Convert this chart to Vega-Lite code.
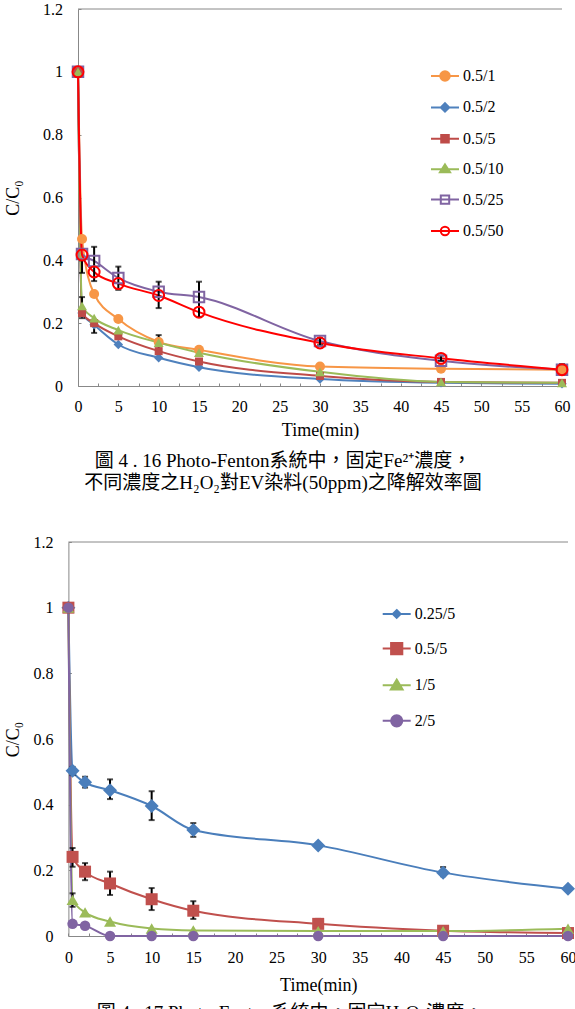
{
  "$schema": "https://vega.github.io/schema/vega-lite/v6.json",
  "padding": {"left": 4, "top": 1, "right": 0, "bottom": 0},
  "background": "white",
  "spacing": 40,
  "resolve": {"scale": {"x": "independent", "y": "independent", "color": "independent"}, "legend": {"color": "independent"}, "axis": {"x": "independent", "y": "independent"}},
  "config": {
    "font": "Liberation Serif",
    "view": {"stroke": null},
    "axis": {"labelFont": "Liberation Serif", "labelFontSize": 16, "labelColor": "#000", "titleFont": "Liberation Serif", "titleFontSize": 18, "titleFontWeight": "normal", "titleColor": "#000", "domainColor": "#888", "tickColor": "#888", "tickSize": -3, "grid": false, "labelOverlap": false, "labelFlush": false},
    "legend": {"labelFont": "Liberation Serif", "labelFontSize": 16, "labelColor": "#000"},
    "title": {"font": "Liberation Serif, Noto Sans CJK TC", "fontSize": 19, "fontWeight": "normal", "color": "#000", "orient": "bottom", "anchor": "middle", "lineHeight": 22, "frame": "group"}
  },
  "datasets": {
    "d1": [
      {"s": "0.5/1", "t": 0, "v": 1}, {"s": "0.5/1", "t": 0.5, "v": 0.468}, {"s": "0.5/1", "t": 2, "v": 0.293}, {"s": "0.5/1", "t": 5, "v": 0.213}, {"s": "0.5/1", "t": 10, "v": 0.14}, {"s": "0.5/1", "t": 15, "v": 0.115}, {"s": "0.5/1", "t": 30, "v": 0.062}, {"s": "0.5/1", "t": 45, "v": 0.055}, {"s": "0.5/1", "t": 60, "v": 0.052},
      {"s": "0.5/2", "t": 0, "v": 1}, {"s": "0.5/2", "t": 0.5, "v": 0.232}, {"s": "0.5/2", "t": 2, "v": 0.195}, {"s": "0.5/2", "t": 5, "v": 0.132}, {"s": "0.5/2", "t": 10, "v": 0.09}, {"s": "0.5/2", "t": 15, "v": 0.06}, {"s": "0.5/2", "t": 30, "v": 0.022}, {"s": "0.5/2", "t": 45, "v": 0.01}, {"s": "0.5/2", "t": 60, "v": 0.007},
      {"s": "0.5/5", "t": 0, "v": 1}, {"s": "0.5/5", "t": 0.5, "v": 0.232}, {"s": "0.5/5", "t": 2, "v": 0.2}, {"s": "0.5/5", "t": 5, "v": 0.158}, {"s": "0.5/5", "t": 10, "v": 0.111}, {"s": "0.5/5", "t": 15, "v": 0.078}, {"s": "0.5/5", "t": 30, "v": 0.032}, {"s": "0.5/5", "t": 45, "v": 0.013}, {"s": "0.5/5", "t": 60, "v": 0.01},
      {"s": "0.5/10", "t": 0, "v": 1}, {"s": "0.5/10", "t": 0.5, "v": 0.255}, {"s": "0.5/10", "t": 2, "v": 0.216}, {"s": "0.5/10", "t": 5, "v": 0.178}, {"s": "0.5/10", "t": 10, "v": 0.138}, {"s": "0.5/10", "t": 15, "v": 0.106}, {"s": "0.5/10", "t": 30, "v": 0.045}, {"s": "0.5/10", "t": 45, "v": 0.013}, {"s": "0.5/10", "t": 60, "v": 0.01},
      {"s": "0.5/25", "t": 0, "v": 1}, {"s": "0.5/25", "t": 0.5, "v": 0.42}, {"s": "0.5/25", "t": 2, "v": 0.398}, {"s": "0.5/25", "t": 5, "v": 0.344}, {"s": "0.5/25", "t": 10, "v": 0.3}, {"s": "0.5/25", "t": 15, "v": 0.283}, {"s": "0.5/25", "t": 30, "v": 0.143}, {"s": "0.5/25", "t": 45, "v": 0.08}, {"s": "0.5/25", "t": 60, "v": 0.052},
      {"s": "0.5/50", "t": 0, "v": 1}, {"s": "0.5/50", "t": 0.5, "v": 0.417}, {"s": "0.5/50", "t": 2, "v": 0.363}, {"s": "0.5/50", "t": 5, "v": 0.326}, {"s": "0.5/50", "t": 10, "v": 0.288}, {"s": "0.5/50", "t": 15, "v": 0.235}, {"s": "0.5/50", "t": 30, "v": 0.137}, {"s": "0.5/50", "t": 45, "v": 0.088}, {"s": "0.5/50", "t": 60, "v": 0.052}
    ],
    "e1": [
      {"t": 0.5, "lo": 0.36, "hi": 0.4}, {"t": 0.5, "lo": 0.216, "hi": 0.283}, {"t": 2, "lo": 0.334, "hi": 0.443}, {"t": 2, "lo": 0.169, "hi": 0.204}, {"t": 5, "lo": 0.306, "hi": 0.38}, {"t": 10, "lo": 0.248, "hi": 0.332}, {"t": 10, "lo": 0.105, "hi": 0.162}, {"t": 15, "lo": 0.22, "hi": 0.332}, {"t": 30, "lo": 0.13, "hi": 0.152}, {"t": 45, "lo": 0.08, "hi": 0.097}, {"t": 45, "lo": 0.008, "hi": 0.022}, {"t": 60, "lo": 0.045, "hi": 0.07}
    ],
    "d2": [
      {"s": "0.25/5", "t": 0, "v": 1}, {"s": "0.25/5", "t": 0.5, "v": 0.503}, {"s": "0.25/5", "t": 2, "v": 0.468}, {"s": "0.25/5", "t": 5, "v": 0.444}, {"s": "0.25/5", "t": 10, "v": 0.396}, {"s": "0.25/5", "t": 15, "v": 0.323}, {"s": "0.25/5", "t": 30, "v": 0.276}, {"s": "0.25/5", "t": 45, "v": 0.193}, {"s": "0.25/5", "t": 60, "v": 0.144},
      {"s": "0.5/5", "t": 0, "v": 1}, {"s": "0.5/5", "t": 0.5, "v": 0.241}, {"s": "0.5/5", "t": 2, "v": 0.196}, {"s": "0.5/5", "t": 5, "v": 0.16}, {"s": "0.5/5", "t": 10, "v": 0.112}, {"s": "0.5/5", "t": 15, "v": 0.077}, {"s": "0.5/5", "t": 30, "v": 0.037}, {"s": "0.5/5", "t": 45, "v": 0.016}, {"s": "0.5/5", "t": 60, "v": 0.009},
      {"s": "1/5", "t": 0, "v": 1}, {"s": "1/5", "t": 0.5, "v": 0.11}, {"s": "1/5", "t": 2, "v": 0.072}, {"s": "1/5", "t": 5, "v": 0.044}, {"s": "1/5", "t": 10, "v": 0.023}, {"s": "1/5", "t": 15, "v": 0.017}, {"s": "1/5", "t": 30, "v": 0.015}, {"s": "1/5", "t": 45, "v": 0.015}, {"s": "1/5", "t": 60, "v": 0.022},
      {"s": "2/5", "t": 0, "v": 1}, {"s": "2/5", "t": 0.5, "v": 0.037}, {"s": "2/5", "t": 2, "v": 0.031}, {"s": "2/5", "t": 5, "v": 0}, {"s": "2/5", "t": 10, "v": 0}, {"s": "2/5", "t": 15, "v": 0}, {"s": "2/5", "t": 30, "v": 0}, {"s": "2/5", "t": 45, "v": 0}, {"s": "2/5", "t": 60, "v": 0}
    ],
    "e2": [
      {"t": 0.5, "lo": 0.49, "hi": 0.515}, {"t": 2, "lo": 0.452, "hi": 0.485}, {"t": 5, "lo": 0.417, "hi": 0.477}, {"t": 10, "lo": 0.353, "hi": 0.441}, {"t": 15, "lo": 0.302, "hi": 0.344}, {"t": 45, "lo": 0.182, "hi": 0.21},
      {"t": 0.5, "lo": 0.211, "hi": 0.268}, {"t": 2, "lo": 0.17, "hi": 0.222}, {"t": 5, "lo": 0.125, "hi": 0.196}, {"t": 10, "lo": 0.079, "hi": 0.146}, {"t": 15, "lo": 0.052, "hi": 0.106}, {"t": 30, "lo": 0.024, "hi": 0.052}, {"t": 45, "lo": 0.01, "hi": 0.025},
      {"t": 0.5, "lo": 0.089, "hi": 0.13}
    ],
    "top": [{"y": 1.2, "a": 0, "b": 60}]
  },
  "vconcat": [
    {
      "width": 484,
      "height": 377,
      "title": {"text": ["圖 4 . 16 Photo-Fenton系統中，固定Fe²⁺濃度，", "不同濃度之H₂O₂對EV染料(50ppm)之降解效率圖"], "offset": 13, "dx": -37},
      "encoding": {
        "x": {"field": "t", "type": "quantitative", "scale": {"domain": [0, 60], "nice": false},
              "axis": {"title": "Time(min)", "values": [0, 2.5, 5, 7.5, 10, 12.5, 15, 17.5, 20, 22.5, 25, 27.5, 30, 32.5, 35, 37.5, 40, 42.5, 45, 47.5, 50, 52.5, 55, 57.5, 60], "labelExpr": "datum.value % 5 === 0 ? format(datum.value, 'd') : ''", "labelPadding": 15.6, "titlePadding": 6.7}}
      },
      "layer": [
        {
          "data": {"name": "d1"},
          "mark": {"type": "line", "interpolate": "monotone", "strokeWidth": 2},
          "encoding": {
            "y": {"field": "v", "type": "quantitative", "scale": {"domain": [0, 1.2], "nice": false},
                  "axis": {"title": "C/C₀", "values": [0, 0.1, 0.2, 0.3, 0.4, 0.5, 0.6, 0.7, 0.8, 0.9, 1, 1.1, 1.2], "labelExpr": "round(datum.value * 10) % 2 === 0 ? format(datum.value, '~g') : ''", "labelPadding": 18.6, "titlePadding": 19.7}},
            "color": {"field": "s", "type": "nominal",
                      "scale": {"domain": ["0.5/1", "0.5/2", "0.5/5", "0.5/10", "0.5/25", "0.5/50"], "range": ["#F79646", "#4F81BD", "#BE4B48", "#9BBB59", "#8064A2", "#FF0000"]},
                      "legend": {"orient": "none", "legendX": 352, "legendY": 52, "title": null, "symbolSize": 784, "symbolStrokeWidth": 2, "rowPadding": 7.4, "labelOffset": 3, "padding": 0, "symbolOpacity": 1, "labelFont": "Liberation Serif",
                                 "encode": {"symbols": {"update": {
                                   "shape": {"signal": "datum.value==='0.5/1'?'M-1,0H1M0.34,0A0.34,0.34,0,1,1,-0.34,0A0.34,0.34,0,1,1,0.34,0Z':datum.value==='0.5/2'?'M-1,0H1M0,-0.3L0.3,0L0,0.3L-0.3,0Z':datum.value==='0.5/5'?'M-1,0H1M-0.27,-0.27H0.27V0.27H-0.27Z':datum.value==='0.5/10'?'M-1,0H1M0,-0.34L0.36,0.22H-0.36Z':datum.value==='0.5/25'?'M-1,0H1M-0.3,-0.3H0.3V0.3H-0.3Z':'M-1,0H1M0.3,0A0.3,0.3,0,1,1,-0.3,0A0.3,0.3,0,1,1,0.3,0Z'"},
                                   "fill": {"signal": "datum.value==='0.5/1'?'#F79646':datum.value==='0.5/2'?'#4F81BD':datum.value==='0.5/5'?'#BE4B48':datum.value==='0.5/10'?'#9BBB59':'transparent'"}
                                 }}}}}
          }
        },
        {
          "data": {"name": "e1"},
          "mark": {"type": "rule", "color": "#000", "strokeWidth": 2},
          "encoding": {"y": {"field": "lo", "type": "quantitative"}, "y2": {"field": "hi"}}
        },
        {
          "data": {"name": "e1"},
          "mark": {"type": "tick", "orient": "horizontal", "color": "#000", "size": 6, "thickness": 2},
          "encoding": {"y": {"field": "lo", "type": "quantitative"}}
        },
        {
          "data": {"name": "e1"},
          "mark": {"type": "tick", "orient": "horizontal", "color": "#000", "size": 6, "thickness": 2},
          "encoding": {"y": {"field": "hi", "type": "quantitative"}}
        },
        {
          "data": {"name": "d1"},
          "transform": [{"filter": {"field": "s", "equal": "0.5/1"}}],
          "mark": {"type": "point", "shape": "circle", "filled": true, "opacity": 1, "size": 100, "color": "#F79646"},
          "encoding": {"y": {"field": "v", "type": "quantitative"}}
        },
        {
          "data": {"name": "d1"},
          "transform": [{"filter": {"field": "s", "equal": "0.5/2"}}],
          "mark": {"type": "point", "shape": "diamond", "filled": true, "opacity": 1, "size": 90, "color": "#4F81BD"},
          "encoding": {"y": {"field": "v", "type": "quantitative"}}
        },
        {
          "data": {"name": "d1"},
          "transform": [{"filter": {"field": "s", "equal": "0.5/5"}}],
          "mark": {"type": "point", "shape": "square", "filled": true, "opacity": 1, "size": 64, "color": "#BE4B48"},
          "encoding": {"y": {"field": "v", "type": "quantitative"}}
        },
        {
          "data": {"name": "d1"},
          "transform": [{"filter": {"field": "s", "equal": "0.5/10"}}],
          "mark": {"type": "point", "shape": "triangle-up", "filled": true, "opacity": 1, "size": 100, "color": "#9BBB59"},
          "encoding": {"y": {"field": "v", "type": "quantitative"}}
        },
        {
          "data": {"name": "d1"},
          "transform": [{"filter": {"field": "s", "equal": "0.5/25"}}],
          "mark": {"type": "point", "shape": "square", "filled": false, "strokeWidth": 2, "opacity": 1, "size": 110, "color": "#8064A2"},
          "encoding": {"y": {"field": "v", "type": "quantitative"}}
        },
        {
          "data": {"name": "d1"},
          "transform": [{"filter": {"field": "s", "equal": "0.5/50"}}],
          "mark": {"type": "point", "shape": "circle", "filled": false, "strokeWidth": 2, "opacity": 1, "size": 120, "color": "#FF0000"},
          "encoding": {"y": {"field": "v", "type": "quantitative"}}
        },
        {
          "data": {"name": "top"},
          "mark": {"type": "rule", "color": "#888", "strokeWidth": 1},
          "encoding": {"x": {"field": "a", "type": "quantitative"}, "x2": {"field": "b"}, "y": {"field": "y", "type": "quantitative"}}
        }
      ]
    },
    {
      "width": 490,
      "height": 394,
      "title": {"text": ["圖 4 . 17 Photo-Fenton系統中，固定H₂O₂濃度，"], "offset": 10, "dx": -33},
      "encoding": {
        "x": {"field": "t", "type": "quantitative", "scale": {"domain": [0, 60], "nice": false, "range": [-9.6, 490]},
              "axis": {"title": "Time(min)", "values": [0, 2.5, 5, 7.5, 10, 12.5, 15, 17.5, 20, 22.5, 25, 27.5, 30, 32.5, 35, 37.5, 40, 42.5, 45, 47.5, 50, 52.5, 55, 57.5, 60], "labelExpr": "datum.value % 5 === 0 ? format(datum.value, 'd') : ''", "labelPadding": 16.3, "titlePadding": 11}}
      },
      "layer": [
        {
          "data": {"name": "d2"},
          "mark": {"type": "line", "interpolate": "monotone", "strokeWidth": 2},
          "encoding": {
            "y": {"field": "v", "type": "quantitative", "scale": {"domain": [0, 1.2], "nice": false},
                  "axis": {"title": "C/C₀", "offset": 9.6, "values": [0, 0.1, 0.2, 0.3, 0.4, 0.5, 0.6, 0.7, 0.8, 0.9, 1, 1.1, 1.2], "labelExpr": "round(datum.value * 10) % 2 === 0 ? format(datum.value, '~g') : ''", "labelPadding": 18.4, "titlePadding": 10.3}},
            "color": {"field": "s", "type": "nominal",
                      "scale": {"domain": ["0.25/5", "0.5/5", "1/5", "2/5"], "range": ["#4A7EBB", "#C0504D", "#9BBB59", "#8064A2"]},
                      "legend": {"orient": "none", "legendX": 303.7, "legendY": 57, "title": null, "symbolSize": 784, "symbolStrokeWidth": 2, "rowPadding": 11.6, "labelOffset": 3, "padding": 0, "symbolOpacity": 1, "labelFont": "Liberation Serif",
                                 "encode": {"symbols": {"update": {
                                   "shape": {"signal": "datum.value==='0.25/5'?'M-1,0H1M0,-0.28L0.28,0L0,0.28L-0.28,0Z':datum.value==='0.5/5'?'M-1,0H1M-0.4,-0.4H0.4V0.4H-0.4Z':datum.value==='1/5'?'M-1,0H1M0,-0.4L0.42,0.3H-0.42Z':'M-1,0H1M0.4,0A0.4,0.4,0,1,1,-0.4,0A0.4,0.4,0,1,1,0.4,0Z'"},
                                   "fill": {"signal": "datum.value==='0.25/5'?'#4A7EBB':datum.value==='0.5/5'?'#C0504D':datum.value==='1/5'?'#9BBB59':'#8064A2'"}
                                 }}}}}
          }
        },
        {
          "data": {"name": "e2"},
          "mark": {"type": "rule", "color": "#000", "strokeWidth": 2},
          "encoding": {"y": {"field": "lo", "type": "quantitative"}, "y2": {"field": "hi"}}
        },
        {
          "data": {"name": "e2"},
          "mark": {"type": "tick", "orient": "horizontal", "color": "#000", "size": 6, "thickness": 2},
          "encoding": {"y": {"field": "lo", "type": "quantitative"}}
        },
        {
          "data": {"name": "e2"},
          "mark": {"type": "tick", "orient": "horizontal", "color": "#000", "size": 6, "thickness": 2},
          "encoding": {"y": {"field": "hi", "type": "quantitative"}}
        },
        {
          "data": {"name": "d2"},
          "transform": [{"filter": {"field": "s", "equal": "0.25/5"}}],
          "mark": {"type": "point", "shape": "diamond", "filled": true, "opacity": 1, "size": 196, "color": "#4A7EBB"},
          "encoding": {"y": {"field": "v", "type": "quantitative"}}
        },
        {
          "data": {"name": "d2"},
          "transform": [{"filter": {"field": "s", "equal": "0.5/5"}}],
          "mark": {"type": "point", "shape": "square", "filled": true, "opacity": 1, "size": 144, "color": "#C0504D"},
          "encoding": {"y": {"field": "v", "type": "quantitative"}}
        },
        {
          "data": {"name": "d2"},
          "transform": [{"filter": {"field": "s", "equal": "1/5"}}],
          "mark": {"type": "point", "shape": "triangle-up", "filled": true, "opacity": 1, "size": 144, "color": "#9BBB59"},
          "encoding": {"y": {"field": "v", "type": "quantitative"}}
        },
        {
          "data": {"name": "d2"},
          "transform": [{"filter": {"field": "s", "equal": "2/5"}}],
          "mark": {"type": "point", "shape": "circle", "filled": true, "opacity": 1, "size": 110, "color": "#8064A2"},
          "encoding": {"y": {"field": "v", "type": "quantitative"}}
        },
        {
          "data": {"name": "top"},
          "mark": {"type": "rule", "color": "#888", "strokeWidth": 1},
          "encoding": {"x": {"field": "a", "type": "quantitative"}, "x2": {"field": "b"}, "y": {"field": "y", "type": "quantitative"}}
        }
      ]
    }
  ]
}
